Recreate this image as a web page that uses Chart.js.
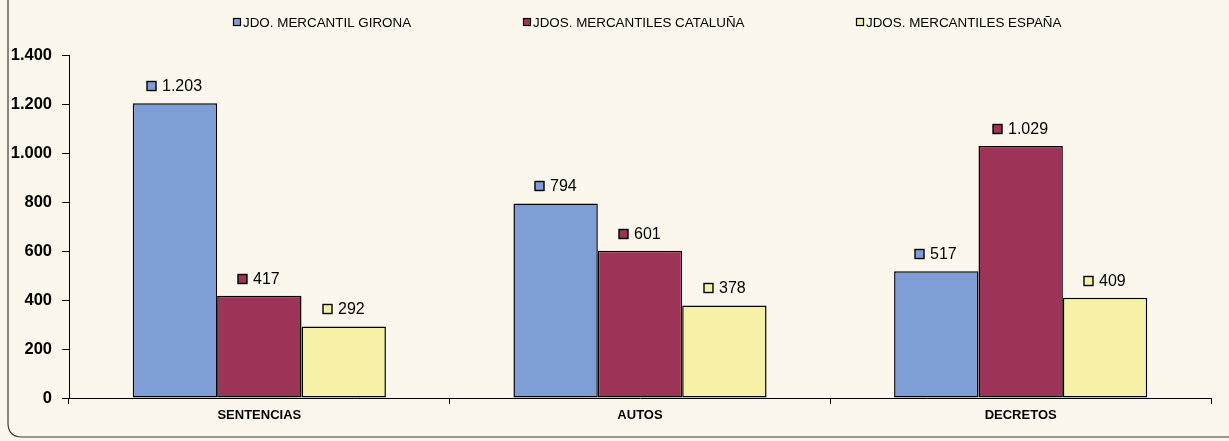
<!DOCTYPE html>
<html><head><meta charset="utf-8">
<script src="https://cdn.jsdelivr.net/npm/chart.js@4"></script>
<style>html,body{margin:0;padding:0;background:#fbf7ec}canvas{display:block}</style>
</head><body>
<canvas id="c" width="1229" height="441"></canvas>
<script>
const categories = ['SENTENCIAS', 'AUTOS', 'DECRETOS'];
const seriesNames = ['JDO. MERCANTIL GIRONA', 'JDOS. MERCANTILES CATALUÑA', 'JDOS. MERCANTILES ESPAÑA'];
const gironaValues = [1203, 794, 517];
const catalunyaValues = [417, 601, 1029];
const espanaValues = [292, 378, 409];
const yTicks = [0, 200, 400, 600, 800, 1000, 1200, 1400];
const seriesColors = ['#7f9ed5', '#9e3358', '#f7f1a8'];

const FONT = 'Arial, "Liberation Sans", sans-serif';
function fmt(v) { return String(v).replace(/\B(?=(\d{3})+(?!\d))/g, '.'); }

const paperPlugin = {
  id: 'paper',
  beforeDraw(chart) {
    const ctx = chart.ctx;
    ctx.save();
    ctx.fillStyle = '#fbf7ec';
    ctx.fillRect(0, 0, chart.width, chart.height);
    ctx.strokeStyle = '#3d3a36';
    ctx.lineWidth = 1.2;
    const x = 8, y = -20, w = chart.width + 20, h = 437 + 20, r = 14;
    ctx.beginPath();
    ctx.moveTo(x, y);
    ctx.lineTo(x, y + h - r);
    ctx.quadraticCurveTo(x, y + h, x + r, y + h);
    ctx.lineTo(x + w, y + h);
    ctx.stroke();
    ctx.restore();
  }
};

const legendPositions = [233, 523, 856];
const customLegend = {
  id: 'customLegend',
  afterDraw(chart) {
    const ctx = chart.ctx;
    ctx.save();
    ctx.font = '13.4px ' + FONT;
    ctx.textBaseline = 'middle';
    ctx.textAlign = 'left';
    chart.data.datasets.forEach((ds, i) => {
      const x = legendPositions[i], yc = 22, s = 8;
      ctx.fillStyle = ds.backgroundColor;
      ctx.fillRect(x, yc - s / 2, s, s);
      ctx.strokeStyle = '#000';
      ctx.lineWidth = 1.2;
      ctx.strokeRect(x + 0.5, yc - s / 2 + 0.5, s - 1, s - 1);
      ctx.fillStyle = '#000';
      ctx.fillText(ds.label, x + s + 2, yc + 1);
    });
    ctx.restore();
  }
};

const valueLabels = {
  id: 'valueLabels',
  afterDatasetsDraw(chart) {
    const ctx = chart.ctx;
    ctx.save();
    ctx.font = '16px ' + FONT;
    ctx.textBaseline = 'middle';
    ctx.textAlign = 'left';
    chart.data.datasets.forEach((ds, i) => {
      const meta = chart.getDatasetMeta(i);
      meta.data.forEach((bar, j) => {
        const txt = fmt(ds.data[j]);
        const tw = ctx.measureText(txt).width;
        const box = 9, gap = 6;
        const total = box + gap + tw;
        const x0 = Math.round(bar.x - total / 2);
        const yc = Math.round(bar.y - 17);
        ctx.fillStyle = ds.backgroundColor;
        ctx.fillRect(x0, yc - box / 2, box, box);
        ctx.strokeStyle = '#000';
        ctx.lineWidth = 1.4;
        ctx.strokeRect(x0, yc - box / 2, box, box);
        ctx.fillStyle = '#000';
        ctx.fillText(txt, x0 + box + gap, yc + 1);
      });
    });
    ctx.restore();
  }
};

const seriesValues = [gironaValues, catalunyaValues, espanaValues];
new Chart(document.getElementById('c'), {
  type: 'bar',
  data: {
    labels: categories,
    datasets: seriesValues.map((vals, i) => ({
      label: seriesNames[i],
      data: vals,
      backgroundColor: seriesColors[i],
      borderColor: '#000',
      borderWidth: 1.5,
      borderSkipped: false,
      categoryPercentage: 0.665,
      barPercentage: 1.0
    }))
  },
  options: {
    responsive: false,
    animation: false,
    devicePixelRatio: 1,
    layout: { padding: { left: 0, right: 18, top: 55, bottom: 0 } },
    plugins: { legend: { display: false }, tooltip: { enabled: false } },
    scales: {
      x: {
        afterFit(axis) { axis.height = 43; },
        grid: { display: true, offset: true, drawOnChartArea: false, drawTicks: true, tickLength: 6, color: '#000', lineWidth: 1 },
        border: { display: true, color: '#000', width: 1 },
        ticks: { color: '#000', font: { family: FONT, size: 13, weight: 'bold' }, padding: 4 }
      },
      y: {
        min: 0, max: 1400,
        afterFit(axis) { axis.width = 69; },
        afterBuildTicks(axis) { axis.ticks = yTicks.map(v => ({ value: v })); },
        grid: { display: true, drawOnChartArea: false, drawTicks: true, tickLength: 7, color: '#000', lineWidth: 1 },
        border: { display: true, color: '#000', width: 1 },
        ticks: { color: '#000', font: { family: FONT, size: 16.5, weight: 'bold' }, padding: 10, callback: v => fmt(v) }
      }
    }
  },
  plugins: [paperPlugin, customLegend, valueLabels]
});
</script>
</body></html>
